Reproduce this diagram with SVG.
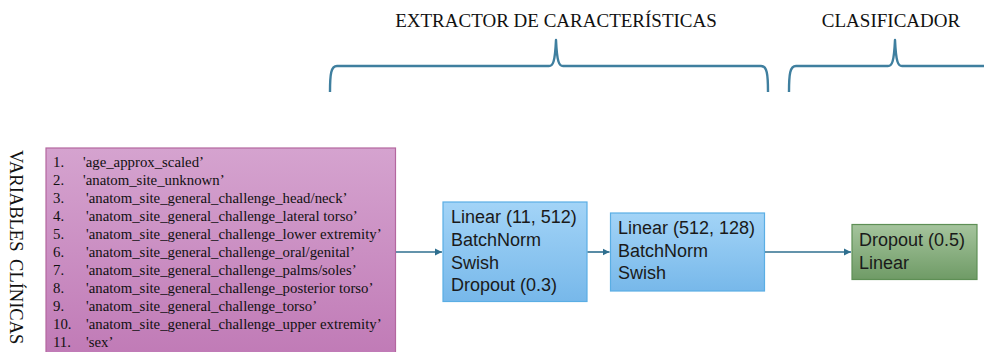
<svg xmlns="http://www.w3.org/2000/svg" width="984" height="352" viewBox="0 0 984 352">
<defs>
<linearGradient id="gPurple" x1="0" y1="0" x2="0" y2="1">
<stop offset="0" stop-color="#d5a3cf"/>
<stop offset="1" stop-color="#c07ab6"/>
</linearGradient>
<linearGradient id="gBlue" x1="0" y1="0" x2="0" y2="1">
<stop offset="0" stop-color="#a3d4f7"/>
<stop offset="1" stop-color="#77b8ea"/>
</linearGradient>
<linearGradient id="gGreen" x1="0" y1="0" x2="0" y2="1">
<stop offset="0" stop-color="#a5c49d"/>
<stop offset="1" stop-color="#6f9b66"/>
</linearGradient>
<marker id="arr" markerWidth="8" markerHeight="8" refX="7" refY="4" orient="auto" markerUnits="userSpaceOnUse">
<path d="M0,0.5 L7,4 L0,7.5 Z" fill="#2f6f8f"/>
</marker>
<style>
.serif{font-family:"Liberation Serif","Times New Roman",serif;fill:#111;white-space:pre}
.sans{font-family:"Liberation Sans",Arial,sans-serif;font-size:18px;fill:#1a1a1a}
.list{font-size:14.8px}
.head{font-size:19px}
.brace{fill:none;stroke:#3f7f9f;stroke-width:2.4;stroke-linejoin:round}
.conn{fill:none;stroke:#2f6f8f;stroke-width:1.6}
.blue{fill:url(#gBlue);stroke:#5aaee4;stroke-width:1.2}
</style>
</defs>
<rect width="984" height="352" fill="#ffffff"/>

<g id="header-extractor">
<text class="serif head" x="556" y="27" text-anchor="middle">EXTRACTOR DE CARACTERÍSTICAS</text>
<path class="brace" d="M330,92 C330,74 331,66 337,66 L549,66 C553,66 555,62 556,40 C557,62 559,66 563,66 L761,66 C767,66 768,74 768,92"/>
</g>
<g id="header-clasificador">
<text class="serif head" x="891" y="27" text-anchor="middle">CLASIFICADOR</text>
<path class="brace" d="M789,92 C789,74 790,66 796,66 L888,66 C892,66 894,62 895,40 C896,62 898,66 902,66 L984,66"/>
</g>

<g id="label-variables">
<text class="serif" font-size="18.5" word-spacing="3" transform="translate(10,150) rotate(90)">VARIABLES CLÍNICAS</text>
</g>

<g id="node-variables">
<rect x="46" y="148" width="349.5" height="210" fill="url(#gPurple)" stroke="#b4679f" stroke-width="1.2"/>
<g class="serif list">
<text x="53" y="167">1.</text><text x="83" y="167">'age_approx_scaled’</text>
<text x="53" y="185">2.</text><text x="83" y="185">'anatom_site_unknown’</text>
<text x="53" y="203">3.</text><text x="86" y="203">'anatom_site_general_challenge_head/neck’</text>
<text x="53" y="221">4.</text><text x="86" y="221">'anatom_site_general_challenge_lateral  torso’</text>
<text x="53" y="239">5.</text><text x="86" y="239">'anatom_site_general_challenge_lower  extremity’</text>
<text x="53" y="257">6.</text><text x="86" y="257">'anatom_site_general_challenge_oral/genital’</text>
<text x="53" y="275">7.</text><text x="86" y="275">'anatom_site_general_challenge_palms/soles’</text>
<text x="53" y="293">8.</text><text x="86" y="293">'anatom_site_general_challenge_posterior  torso’</text>
<text x="53" y="311">9.</text><text x="86" y="311">'anatom_site_general_challenge_torso’</text>
<text x="53" y="329">10.</text><text x="86" y="329">'anatom_site_general_challenge_upper extremity’</text>
<text x="53" y="347">11.</text><text x="86" y="347">'sex’</text>
</g>
</g>

<g id="node-block1">
<rect class="blue" x="443" y="202" width="144" height="99.5"/>
<text class="sans" x="451" y="223">Linear (11, 512)</text>
<text class="sans" x="451" y="246">BatchNorm</text>
<text class="sans" x="451" y="268.5">Swish</text>
<text class="sans" x="451" y="291">Dropout (0.3)</text>
</g>

<g id="node-block2">
<rect class="blue" x="610.5" y="213" width="154" height="78"/>
<text class="sans" x="618" y="234">Linear (512, 128)</text>
<text class="sans" x="618" y="256.5">BatchNorm</text>
<text class="sans" x="618" y="279">Swish</text>
</g>

<g id="node-classifier">
<rect x="852" y="224.5" width="125" height="55" fill="url(#gGreen)" stroke="#5e8f55" stroke-width="1.2"/>
<text class="sans" x="859" y="246">Dropout (0.5)</text>
<text class="sans" x="859" y="269">Linear</text>
</g>

<g id="connectors">
<line class="conn" x1="396" y1="252" x2="442" y2="252" marker-end="url(#arr)"/>
<line class="conn" x1="587.5" y1="252" x2="609.5" y2="252" marker-end="url(#arr)"/>
<line class="conn" x1="765" y1="252" x2="851" y2="252" marker-end="url(#arr)"/>
</g>
</svg>
